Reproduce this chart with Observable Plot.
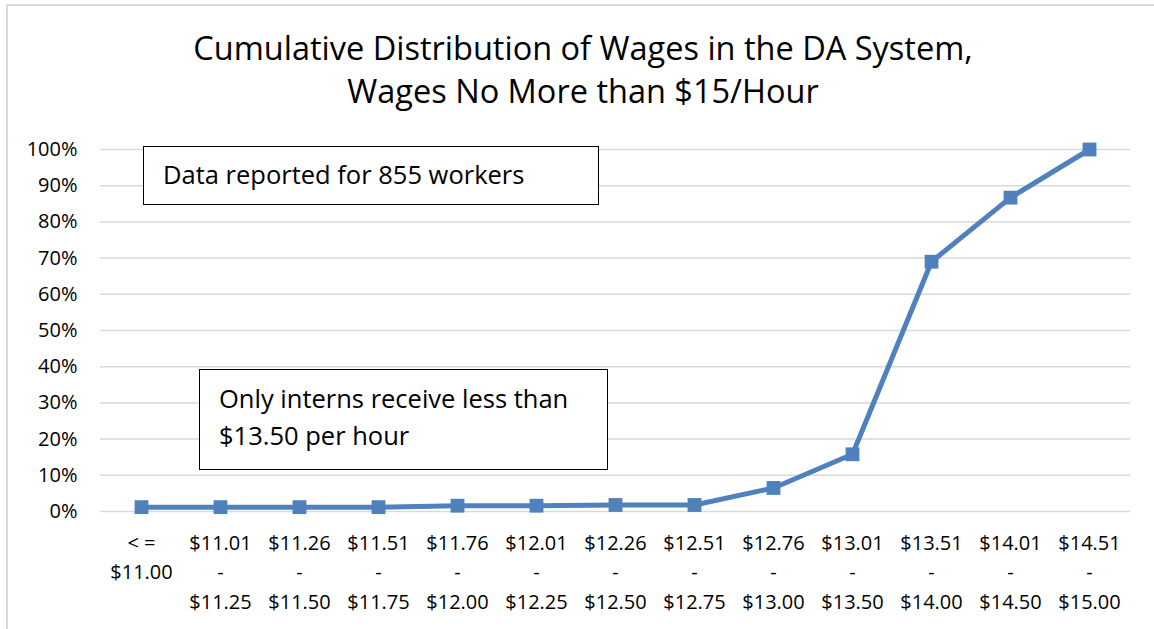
<!DOCTYPE html>
<html>
<head>
<meta charset="utf-8">
<script src="https://cdn.jsdelivr.net/npm/d3@7"></script>
<script src="https://cdn.jsdelivr.net/npm/@observablehq/plot@0.6"></script>
<style>
  html, body { margin: 0; padding: 0; background: #fff; }
  body { width: 1154px; height: 629px; position: relative; overflow: hidden; font-family: "Open Sans", sans-serif; color: #000; }
  #frame { position: absolute; left: 6px; top: 4px; width: 1200px; height: 700px; border-top: 2px solid #d9d9d9; border-left: 2px solid #d9d9d9; }
  #title { position: absolute; left: 0; top: 26px; width: 1166px; text-align: center; font-size: 32.5px; line-height: 43px; color: #000; }
  #chart { position: absolute; left: 0; top: 120px; }
  .note { position: absolute; border: 1px solid #000; background: #fff; font-size: 25.5px; line-height: 37px; box-sizing: border-box; white-space: nowrap; }
  #note1 { left: 143px; top: 146px; width: 456px; height: 59px; padding: 9px 0 0 19px; }
  #note2 { left: 199px; top: 369px; width: 409px; height: 101px; padding: 10px 0 0 19px; }
</style>
</head>
<body>
<div id="frame"></div>
<div id="title">Cumulative Distribution of Wages in the DA System,<br>Wages No More than $15/Hour</div>
<div id="chart"></div>
<div class="note" id="note1">Data reported for 855 workers</div>
<div class="note" id="note2">Only interns receive less than<br>$13.50 per hour</div>
<script>
const categories = [
  "< =\n$11.00",
  "$11.01\n-\n$11.25",
  "$11.26\n-\n$11.50",
  "$11.51\n-\n$11.75",
  "$11.76\n-\n$12.00",
  "$12.01\n-\n$12.25",
  "$12.26\n-\n$12.50",
  "$12.51\n-\n$12.75",
  "$12.76\n-\n$13.00",
  "$13.01\n-\n$13.50",
  "$13.51\n-\n$14.00",
  "$14.01\n-\n$14.50",
  "$14.51\n-\n$15.00"
];
const cumulativeShare = [1.2, 1.2, 1.2, 1.2, 1.6, 1.6, 1.8, 1.8, 6.5, 15.8, 69.0, 86.7, 100.0];
const yTicks = [0, 10, 20, 30, 40, 50, 60, 70, 80, 90, 100];

const data = categories.map((c, i) => ({category: c, value: cumulativeShare[i]}));
const blue = "#4f81bd";

const chart = Plot.plot({
  width: 1154,
  height: 509,
  marginLeft: 100,
  marginRight: 24,
  marginTop: 29,
  marginBottom: 118,
  style: {fontFamily: "Open Sans, sans-serif", fontSize: "20px", color: "#000", background: "transparent"},
  x: {type: "point", domain: categories, padding: 0.5, label: null},
  y: {domain: [0, 100], label: null},
  marks: [
    Plot.gridY(yTicks, {stroke: "#d9d9d9", strokeOpacity: 1, strokeWidth: 1.5}),
    Plot.axisY(yTicks, {tickSize: 0, tickPadding: 23, tickFormat: d => d + "%", label: null, fontSize: 20}),
    Plot.axisX({tickSize: 0, tickPadding: 17, lineAnchor: "top", lineHeight: 1.48, fontSize: 20, label: null}),
    Plot.line(data, {x: "category", y: "value", stroke: blue, strokeWidth: 5, curve: "linear"}),
    Plot.dot(data, {x: "category", y: "value", symbol: "square", r: 7.8, fill: blue, stroke: "none"})
  ]
});
document.getElementById("chart").appendChild(chart);
</script>
</body>
</html>
